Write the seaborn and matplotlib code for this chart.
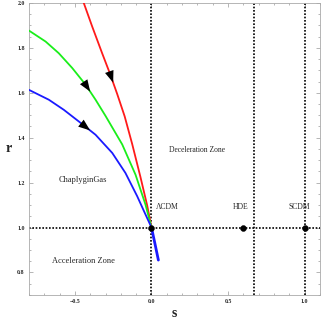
import matplotlib
matplotlib.use('Agg')
import matplotlib.pyplot as plt
from matplotlib.ticker import MultipleLocator
import seaborn as sns
import pandas as pd

# Траектории в плоскости {s, r}
red_s = [-0.442, -0.387, -0.322, -0.267, -0.250, -0.224, -0.175, -0.126, -0.072, -0.028, 0.0]
red_r = [2.0, 1.895, 1.776, 1.678, 1.645, 1.595, 1.495, 1.372, 1.225, 1.098, 1.0]

green_s = [-0.80, -0.691, -0.605, -0.517, -0.43, -0.40, -0.365, -0.30, -0.191, -0.104, -0.039, 0.0]
green_r = [1.877, 1.828, 1.776, 1.710, 1.636, 1.605, 1.569, 1.497, 1.370, 1.235, 1.102, 1.0]

blue_s = [-0.80, -0.67, -0.572, -0.474, -0.40, -0.365, -0.256, -0.17, -0.093, -0.039, 0.0]
blue_r = [1.613, 1.569, 1.524, 1.472, 1.432, 1.413, 1.332, 1.243, 1.139, 1.058, 1.0]
blue_tail_s = [0.0, 0.022, 0.045]
blue_tail_r = [1.0, 0.93, 0.855]

# индекс точки, куда указывает стрелка
arrow_idx = {'red': 4, 'green': 5, 'blue': 4}

# Фиксированные точки
pts_name = ['ΛCDM', 'HDE', 'SCDM']
pts_s = [0.0, 0.6, 1.0]
pts_r = [1.0, 1.0, 1.0]

vlines_s = [0.0, 2 / 3, 1.0]
hline_r = 1.0

sns.set_style('ticks')
plt.rcParams['font.family'] = ['Liberation Serif', 'DejaVu Serif']

fig, ax = plt.subplots(figsize=(3.21, 3.23), dpi=100)
fig.subplots_adjust(left=0.09, right=0.997, bottom=0.087, top=0.991)

curves = {
    'red': (red_s, red_r),
    'green': (green_s, green_r),
    'blue': (blue_s, blue_r),
}
colors = {'red': '#ff1a1a', 'green': '#1aee1a', 'blue': '#1a1aff'}

for name, (s, r) in curves.items():
    df = pd.DataFrame({'s': s, 'r': r})
    sns.lineplot(data=df, x='s', y='r', sort=False, color=colors[name],
                 lw=1.3, ax=ax, zorder=3)
    i = arrow_idx[name]
    ax.annotate('', xy=(s[i], r[i]), xytext=(s[i - 1], r[i - 1]),
                arrowprops=dict(arrowstyle='-|>,head_length=0.85,head_width=0.32',
                                color='black', lw=0, shrinkA=0, shrinkB=0),
                zorder=5)

df_tail = pd.DataFrame({'s': blue_tail_s, 'r': blue_tail_r})
sns.lineplot(data=df_tail, x='s', y='r', sort=False, color=colors['blue'],
             lw=2.0, ax=ax, zorder=3)

# Пунктирные линии
for v in vlines_s:
    ax.axvline(v, color='black', ls=(0, (1, 1)), lw=1.2, zorder=2)
ax.axhline(hline_r, color='black', ls=(0, (1, 1)), lw=1.2, zorder=2)

sns.scatterplot(x=pts_s, y=pts_r, color='black', s=18, edgecolor='black',
                ax=ax, zorder=6)

# Подписи
ax.text(0.026, 1.093, pts_name[0], fontsize=5.5, ha='left', va='center')
ax.text(0.58, 1.093, pts_name[1], fontsize=5.5, ha='center', va='center')
ax.text(0.965, 1.093, pts_name[2], fontsize=5.5, ha='center', va='center')
ax.text(0.30, 1.345, 'Deceleration Zone', fontsize=5.5, ha='center', va='center')
ax.text(-0.45, 1.213, 'ChaplyginGas', fontsize=6, ha='center', va='center')
ax.text(-0.444, 0.849, 'Acceleration Zone', fontsize=6, ha='center', va='center')

ax.set_xlim(-0.8, 1.1)
ax.set_ylim(0.7, 2.0)
ax.xaxis.set_minor_locator(MultipleLocator(0.1))
ax.yaxis.set_minor_locator(MultipleLocator(0.05))
ax.set_xticks([-0.5, 0.0, 0.5, 1.0])
ax.set_xticklabels(['−0.5', '0.0', '0.5', '1.0'])
ax.set_yticks([0.8, 1.0, 1.2, 1.4, 1.6, 1.8, 2.0])
ax.set_yticklabels(['0.8', '1.0', '1.2', '1.4', '1.6', '1.8', '2.0'])

ax.tick_params(which='both', direction='in', top=True, right=True,
               color='#999999', width=0.5, labelsize=4.2, pad=3)
ax.tick_params(which='major', length=3)
ax.tick_params(which='minor', length=1.6)
for lab in ax.get_xticklabels() + ax.get_yticklabels():
    lab.set_fontweight('bold')
for sp in ax.spines.values():
    sp.set_color('#aaaaaa')
    sp.set_linewidth(0.6)

ax.set_xlabel('s', fontsize=10, fontweight='bold', labelpad=2)
ax.set_ylabel('r', fontsize=10, fontweight='bold', rotation=0, labelpad=6, va='center')

fig.savefig('out.png', dpi=100)
plt.close(fig)
